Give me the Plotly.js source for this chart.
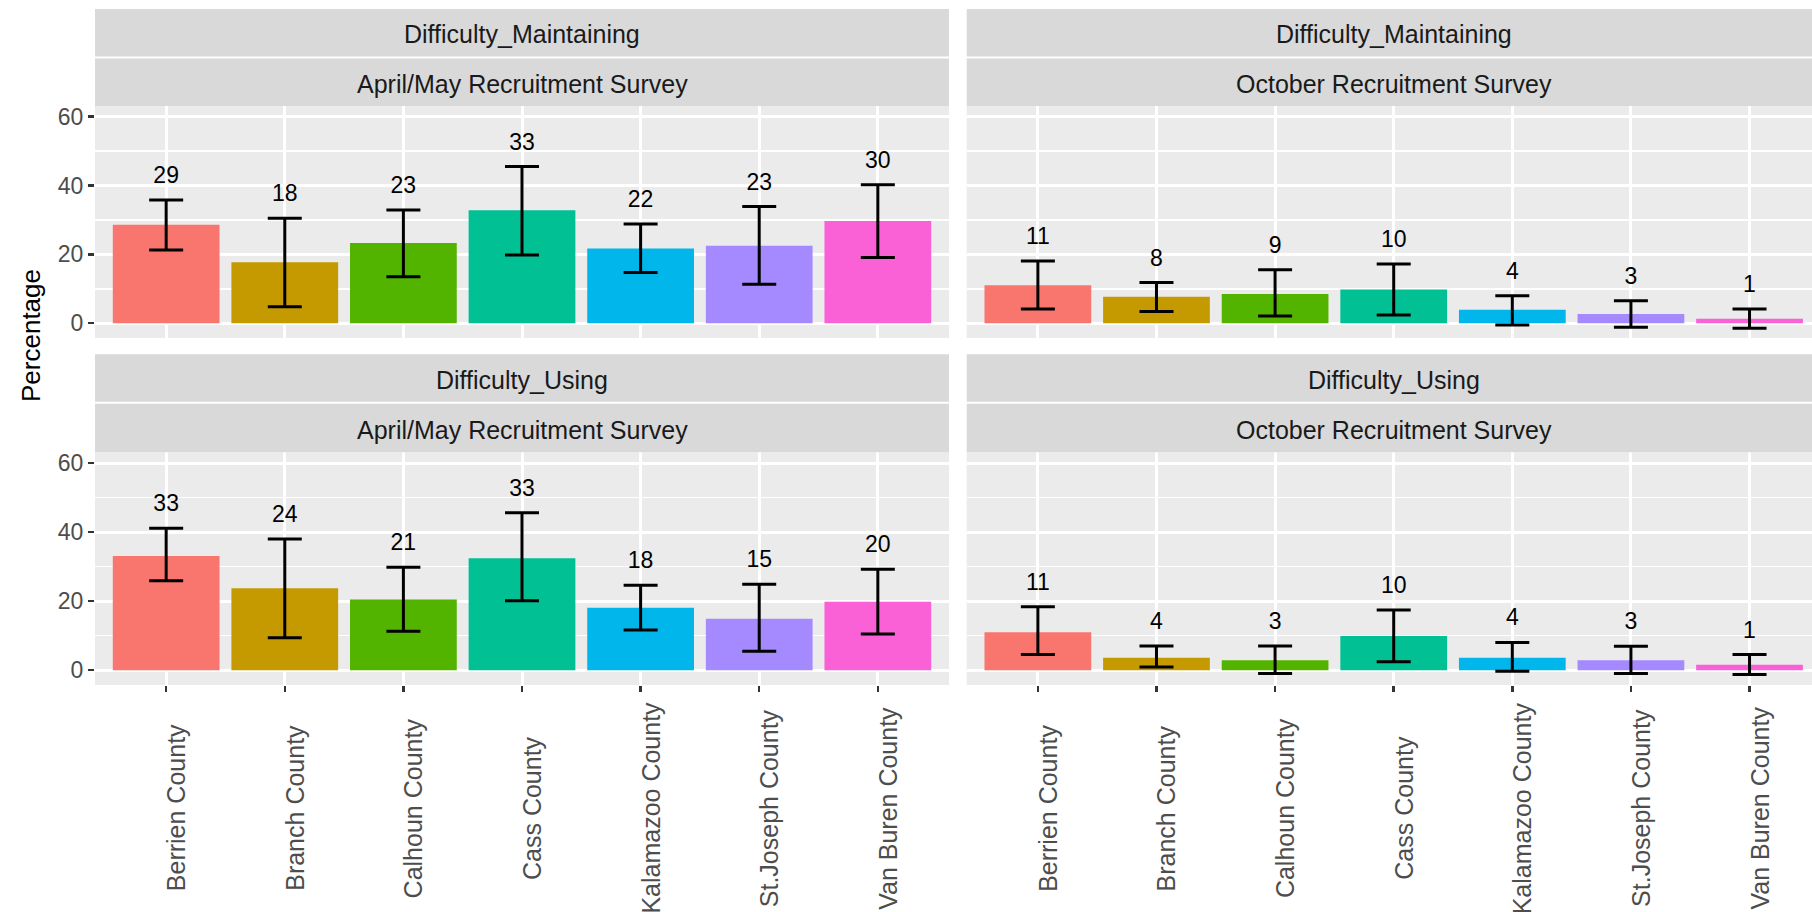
<!DOCTYPE html>
<html>
<head>
<meta charset="utf-8">
<script src="https://cdn.plot.ly/plotly-3.0.1.min.js"></script>
<style>
  html, body { margin: 0; padding: 0; overflow: hidden; background: #ffffff; }
  #chart { width: 1830px; height: 912px; }
</style>
</head>
<body>
<div id="chart"></div>
<script>
// ---------------- DATA ----------------
const counties = ["Berrien County", "Branch County", "Calhoun County", "Cass County",
                  "Kalamazoo County", "St.Joseph County", "Van Buren County"];
const questions = ["Difficulty_Maintaining", "Difficulty_Using"];
const surveys = ["April/May Recruitment Survey", "October Recruitment Survey"];

// Difficulty_Maintaining – April/May
const maintAprilValue = [28.6, 17.7, 23.3, 32.8, 21.7, 22.5, 29.7];
const maintAprilLower = [21.3, 4.8, 13.5, 19.8, 14.7, 11.3, 19.1];
const maintAprilUpper = [35.8, 30.5, 32.9, 45.5, 28.8, 33.9, 40.2];
const maintAprilLabel = ["29", "18", "23", "33", "22", "23", "30"];

// Difficulty_Maintaining – October
const maintOctValue = [11.0, 7.7, 8.5, 9.8, 3.9, 2.7, 1.3];
const maintOctLower = [4.1, 3.4, 2.1, 2.4, -0.5, -1.2, -1.45];
const maintOctUpper = [18.1, 11.8, 15.5, 17.2, 8.0, 6.5, 4.15];
const maintOctLabel = ["11", "8", "9", "10", "4", "3", "1"];

// Difficulty_Using – April/May
const usingAprilValue = [33.1, 23.7, 20.5, 32.4, 18.1, 14.9, 19.8];
const usingAprilLower = [25.9, 9.4, 11.3, 20.1, 11.6, 5.5, 10.5];
const usingAprilUpper = [41.1, 38.0, 29.8, 45.6, 24.6, 24.9, 29.2];
const usingAprilLabel = ["33", "24", "21", "33", "18", "15", "20"];

// Difficulty_Using – October
const usingOctValue = [11.0, 3.6, 2.9, 9.9, 3.6, 2.9, 1.6];
const usingOctLower = [4.5, 0.9, -1.0, 2.4, -0.3, -1.0, -1.25];
const usingOctUpper = [18.4, 7.0, 7.0, 17.4, 8.0, 6.9, 4.5];
const usingOctLabel = ["11", "4", "3", "10", "4", "3", "1"];

const countyColors = ["#F8766D", "#C49A00", "#53B400", "#00C094", "#00B6EB", "#A58AFF", "#FB61D7"];

const yTickVals = [0, 20, 40, 60];
const yAxisTitle = "Percentage";

// ---------------- LAYOUT CONSTANTS ----------------
const W = 1830, H = 912;
const fx = px => px / W;
const fy = py => 1 - py / H;
const FONT = "Liberation Sans, Arial, Helvetica, sans-serif";
const LABEL_OFFSET = 6.6;   // label sits this far above the error bar top

const panels = [
  { q: 0, s: 0, value: maintAprilValue, lower: maintAprilLower, upper: maintAprilUpper, label: maintAprilLabel, xa: "x",  ya: "y"  },
  { q: 0, s: 1, value: maintOctValue,   lower: maintOctLower,   upper: maintOctUpper,   label: maintOctLabel,   xa: "x2", ya: "y2" },
  { q: 1, s: 0, value: usingAprilValue, lower: usingAprilLower, upper: usingAprilUpper, label: usingAprilLabel, xa: "x3", ya: "y3" },
  { q: 1, s: 1, value: usingOctValue,   lower: usingOctLower,   upper: usingOctUpper,   label: usingOctLabel,   xa: "x4", ya: "y4" }
];

const colPx = [[95, 949], [966.7, 1820.7]];
const rowPx = [
  { strip1: [9, 56.5], strip2: [58.5, 106], panel: [106, 338] },
  { strip1: [354.3, 401.8], strip2: [403.8, 452.3], panel: [452.3, 685] }
];

const traces = [];
const shapes = [];
const annotations = [];

panels.forEach(p => {
  const plus = p.upper.map((u, i) => u - p.value[i]);
  const minus = p.value.map((v, i) => v - p.lower[i]);
  traces.push({
    type: "bar", x: counties, y: p.value, xaxis: p.xa, yaxis: p.ya,
    width: 0.9,
    marker: { color: countyColors, line: { width: 0 } },
    error_y: { type: "data", symmetric: false, array: plus, arrayminus: minus,
               color: "#000000", thickness: 3, width: 17 },
    hoverinfo: "x+y", showlegend: false
  });
  traces.push({
    type: "scatter", mode: "text", x: counties,
    y: p.upper.map(u => u + LABEL_OFFSET),
    text: p.label, textposition: "middle center",
    textfont: { family: FONT, size: 23, color: "#000000" },
    xaxis: p.xa, yaxis: p.ya, cliponaxis: false, hoverinfo: "skip", showlegend: false
  });

  const cx = colPx[p.s], r = rowPx[p.q];
  // strips
  [["strip1", questions[p.q]], ["strip2", surveys[p.s]]].forEach(([key, txt]) => {
    shapes.push({ type: "rect", xref: "paper", yref: "paper",
      x0: fx(cx[0]), x1: fx(cx[1]), y0: fy(r[key][1]), y1: fy(r[key][0]),
      fillcolor: "#D9D9D9", line: { width: 0 }, layer: "above" });
    annotations.push({ xref: "paper", yref: "paper",
      x: fx((cx[0] + cx[1]) / 2), y: fy((r[key][0] + r[key][1]) / 2 + 1.5),
      text: txt, showarrow: false, xanchor: "center", yanchor: "middle",
      font: { family: FONT, size: 25, color: "#1A1A1A" } });
  });

  // x tick labels (bottom row only), centred text rotated 90°
  if (p.q === 1) {
    counties.forEach(c => {
      annotations.push({ xref: p.xa, yref: "paper", x: c, y: fy(808),
        text: c, showarrow: false, textangle: -90, xanchor: "left", yanchor: "middle",
        xshift: -6,
        font: { family: FONT, size: 25, color: "#4D4D4D" } });
    });
  }
});

annotations.push({ xref: "paper", yref: "paper", x: fx(31), y: fy(336),
  text: yAxisTitle, showarrow: false, textangle: -90, xanchor: "center", yanchor: "middle",
  font: { family: FONT, size: 26, color: "#000000" } });

function xAxis(col, row) {
  const bottom = row === 1;
  return {
    domain: [fx(colPx[col][0]), fx(colPx[col][1])],
    anchor: ["y", "y2", "y3", "y4"][row * 2 + col],
    type: "category", categoryorder: "array", categoryarray: counties,
    range: [-0.6, 6.6], fixedrange: true,
    showgrid: true, gridcolor: "#FFFFFF", gridwidth: 3,
    zeroline: false, showline: false,
    showticklabels: false,
    ticks: bottom ? "outside" : "", ticklen: 6, tickwidth: 2.5, tickcolor: "#333333"
  };
}
function yAxis(col, row) {
  const left = col === 0;
  const r = rowPx[row].panel;
  return {
    domain: [fy(r[1]), fy(r[0])],
    anchor: ["x", "x2", "x3", "x4"][row * 2 + col],
    range: [-4.3, 63.1], fixedrange: true,
    tickmode: "array", tickvals: yTickVals, ticktext: yTickVals.map(String),
    showgrid: true, gridcolor: "#FFFFFF", gridwidth: 3,
    minor: { tickmode: "array", tickvals: [10, 30, 50], showgrid: true, gridcolor: "#FFFFFF", gridwidth: 1.5, ticks: "" },
    zeroline: false, showline: false,
    showticklabels: left,
    ticks: left ? "outside" : "", ticklen: 6, tickwidth: 2.5, tickcolor: "#333333",
    tickfont: { family: FONT, size: 23, color: "#4D4D4D" },
    ticklabelstandoff: 0
  };
}

const layout = {
  width: W, height: H,
  margin: { l: 0, r: 0, t: 0, b: 0 },
  paper_bgcolor: "#FFFFFF", plot_bgcolor: "#EBEBEB",
  font: { family: FONT },
  showlegend: false,
  bargap: 0.1,
  xaxis: xAxis(0, 0), xaxis2: xAxis(1, 0), xaxis3: xAxis(0, 1), xaxis4: xAxis(1, 1),
  yaxis: yAxis(0, 0), yaxis2: yAxis(1, 0), yaxis3: yAxis(0, 1), yaxis4: yAxis(1, 1),
  shapes: shapes,
  annotations: annotations
};

Plotly.newPlot("chart", traces, layout, { displayModeBar: false, staticPlot: true });
</script>
</body>
</html>
